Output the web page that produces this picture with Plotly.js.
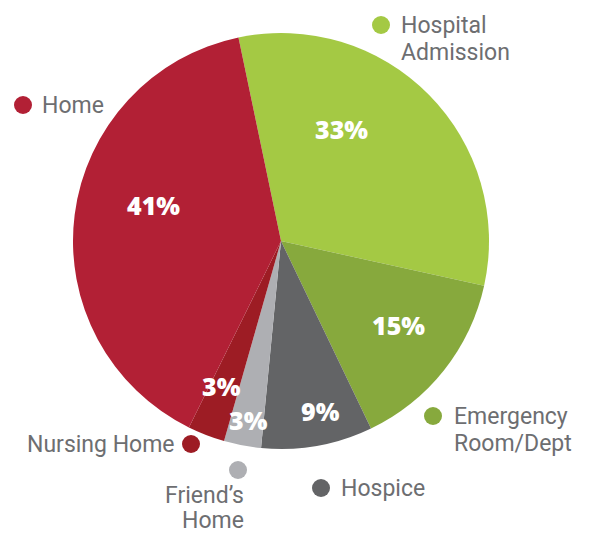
<!DOCTYPE html>
<html>
<head>
<meta charset="utf-8">
<script src="https://cdn.plot.ly/plotly-3.0.1.min.js"></script>
<style>html,body{margin:0;padding:0;background:#fff;}#chart{width:597px;height:534px;}</style>
</head>
<body>
<div id="chart"></div>
<script>
// Data (clockwise from the top)
const categories = ["Hospital Admission", "Emergency Room/Dept", "Hospice", "Friend's Home", "Nursing Home", "Home"];
const percentValues = [33, 15, 9, 3, 3, 41];
const sliceColors = ["#a4c944", "#87a93d", "#636466", "#aeafb3", "#9d1c24", "#b22035"];
const labelLines = [["Hospital", "Admission"], ["Emergency", "Room/Dept"], ["Hospice"], ["Friend\u2019s", "Home"], ["Nursing Home"], ["Home"]];

const W = 597, H = 534;
const px = x => x / W;
const py = y => 1 - y / H;

const trace = {
  type: 'pie',
  labels: categories,
  values: percentValues,
  sort: false,
  direction: 'clockwise',
  rotation: -11.8,
  marker: {colors: sliceColors, line: {width: 0}},
  textinfo: 'none',
  hoverinfo: 'none',
  showlegend: false,
  domain: {x: [73 / W, 489 / W], y: [(H - 449) / H, (H - 33) / H]}
};

const labelFont = {family: 'Roboto, Open Sans, sans-serif', size: 23, color: '#6d6e71', weight: 400};
const pctFont = {family: 'Open Sans, Roboto, sans-serif', size: 25, color: '#ffffff', weight: 800};

// Callouts: [dotX, dotY, textX, firstLineY, anchor, lineGap]
const callouts = [
  [381, 25, 399, 25, 'left', 27],
  [433, 416, 452, 416, 'left', 27],
  [321, 488, 339, 488, 'left', 27],
  [238, 470, 246, 495, 'right', 25],
  [191, 444, 177, 444, 'right', 27],
  [23, 105, 40, 105, 'left', 27]
];
// Percentage label positions inside slices
const pctPos = [[341, 129], [398, 325], [320, 411], [248, 420], [221, 386], [153, 205]];

const shapes = [];
const annotations = [];
callouts.forEach((c, i) => {
  const r = 9;
  shapes.push({type: 'circle', xref: 'paper', yref: 'paper',
    x0: px(c[0] - r), x1: px(c[0] + r), y0: py(c[1] + r), y1: py(c[1] - r),
    fillcolor: sliceColors[i], line: {width: 0}});
  labelLines[i].forEach((t, k) => {
    annotations.push({xref: 'paper', yref: 'paper', x: px(c[2]), y: py(c[3] + k * c[5]),
      xanchor: c[4], yanchor: 'middle', align: c[4], showarrow: false,
      text: t, font: labelFont});
  });
  annotations.push({xref: 'paper', yref: 'paper', x: px(pctPos[i][0]), y: py(pctPos[i][1]),
    xanchor: 'center', yanchor: 'middle', showarrow: false,
    text: percentValues[i] + '%', font: pctFont});
});

const layout = {
  width: W, height: H,
  margin: {l: 0, r: 0, t: 0, b: 0},
  paper_bgcolor: '#ffffff',
  showlegend: false,
  shapes: shapes,
  annotations: annotations
};

Plotly.newPlot('chart', [trace], layout, {displayModeBar: false, staticPlot: true});
</script>
</body>
</html>
